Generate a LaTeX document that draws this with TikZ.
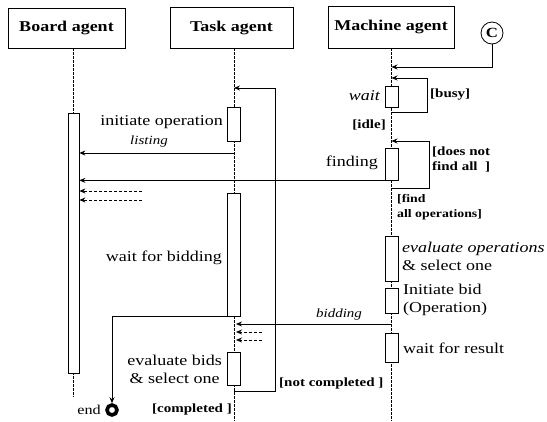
\documentclass[tikz,border=0pt]{standalone}
\usepackage{fontspec}
\setmainfont{Liberation Serif}[FakeStretch=1.2]
\usetikzlibrary{arrows.meta}
\tikzset{
  hdr/.style={draw, line width=0.9pt, inner sep=0pt, font=\fontsize{15}{17}\selectfont\bfseries},
  act/.style={draw, fill=white, line width=0.7pt, minimum width=13pt, inner sep=0pt},
  lbl/.style={inner sep=0pt, font=\fontsize{15}{18}\selectfont},
  grd/.style={inner sep=0pt, font=\fontsize{12.5}{15}\selectfont\bfseries},
  msg/.style={inner sep=0pt, font=\fontsize{12.5}{15}\selectfont\itshape},
  arr/.style={-{Stealth[length=6pt,width=5pt]}, line width=0.8pt},
  darr/.style={arr, dashed, dash pattern=on 3pt off 2pt},
  life/.style={line width=0.6pt, dash pattern=on 2.5pt off 1.5pt},
  conn/.style={line width=0.8pt}
}
\begin{document}
\begin{tikzpicture}[x=1pt,y=-1pt]
\useasboundingbox (0,0) rectangle (547,421);

% agents
\node[hdr, minimum width=117pt, minimum height=40pt] (board) at (66.5,28) {Board agent};
\node[hdr, minimum width=123pt, minimum height=41pt] (task) at (231.5,27.5) {Task agent};
\node[hdr, minimum width=126pt, minimum height=42pt] (mach) at (391,27) {Machine agent};
\node[draw, circle, line width=0.8pt, minimum size=22pt, inner sep=0pt,
      font=\fontsize{14}{16}\selectfont\bfseries] (C) at (492,33) {C};

% lifelines
\coordinate (bTop) at (73.5,48);  \coordinate (bBot) at (73.5,397);
\coordinate (tTop) at (234,48);   \coordinate (tBot) at (234,421);
\coordinate (mTop) at (391.5,48); \coordinate (mBot) at (391.5,421);
\draw[life] (bTop) -- (bBot);
\draw[life] (tTop) -- (tBot);
\draw[life] (mTop) -- (mBot);

% activations
\node[act, minimum width=11pt, minimum height=260pt] (bAct) at (73.5,243) {};
\node[act, minimum height=34pt] (tInit) at (234,124) {};
\node[act, minimum height=123pt] (tWait) at (234,254.5) {};
\node[act, minimum height=33pt] (tEval) at (234,368.5) {};
\node[act, minimum height=21pt] (mWait) at (391.5,96.5) {};
\node[act, minimum height=32pt] (mFind) at (391.5,164) {};
\node[act, minimum height=45pt] (mEval) at (391.5,258.5) {};
\node[act, minimum height=25pt] (mBid) at (391.5,300.5) {};
\node[act, minimum height=29pt] (mRes) at (391.5,347.5) {};

% machine agent: start and busy loop
\coordinate (mC) at (391.5,67);
\draw[arr] (C.south) |- (mC);
\coordinate (busyIn) at (391.5,78);
\coordinate (busyOut) at (391.5,112);
\coordinate (busyR) at (427,112);
\draw[arr] (busyOut) -- (busyR) |- (busyIn);
\node[lbl, font=\fontsize{15}{18}\selectfont\itshape, anchor=east] (wait) at (380,96) {wait};
\node[grd, anchor=west] (busy) at (430,95) {[busy]};
\node[grd, anchor=east] (idle) at (386,125) {[idle]};

% machine agent: finding loop
\coordinate (findIn) at (391.5,141);
\coordinate (findOut) at (391.5,188);
\coordinate (findR) at (429,188);
\draw[arr] (findOut) -- (findR) |- (findIn);
\node[lbl, anchor=east] (finding) at (378,163) {finding};
\node[grd, anchor=west, align=left] (notall) at (432,159.5) {[does not\\ find all\ \ ]};
\node[grd, font=\fontsize{11.5}{15}\selectfont\bfseries, anchor=west, align=left] (findall) at (397,207.5) {[find\\all operations]};
\draw[arr] (mFind.south west) -- (mFind.south west -| bAct.east);

% machine agent: evaluation and bid
\node[lbl, anchor=west, align=left] (evops) at (402,256.5) {\textit{evaluate operations}\\\& select one};
\node[lbl, anchor=west, align=left] (ibid) at (403,299.5) {Initiate bid\\(Operation)};
\node[lbl, anchor=west] (wres) at (403,348) {wait for result};
\coordinate (bidFrom) at (391.5,324);
\coordinate (bidTo) at (236,324);
\draw[arr] (bidFrom) -- (bidTo);
\node[msg] (bidding) at (339,314) {bidding};

% task agent: loop
\coordinate (loopIn) at (234,88);
\coordinate (loopOut) at (234,391);
\coordinate (loopR) at (275,391);
\draw[arr] (loopOut) -- (loopR) |- (loopIn);
\node[grd, anchor=west] (notcomp) at (279,383) {[not completed ]};

% task agent: operation request
\node[lbl, anchor=east] (initop) at (223,122) {initiate operation};
\coordinate (listFrom) at (234,153);
\draw[arr] (listFrom) -- (listFrom -| bAct.east);
\node[msg] (listing) at (149,141) {listing};
\coordinate (rep1) at (142,191);
\coordinate (rep2) at (142,200);
\draw[darr] (rep1) -- (rep1 -| bAct.east);
\draw[darr] (rep2) -- (rep2 -| bAct.east);

% task agent: bidding
\node[lbl, anchor=east] (wbid) at (222,258) {wait for bidding};
\coordinate (bid1) at (262,332);
\coordinate (bid2) at (262,340);
\draw[darr] (bid1) -- (236,332);
\draw[darr] (bid2) -- (236,340);
\node[lbl, anchor=east, align=center] (evbids) at (222,369) {evaluate bids\\\& select one};
\node[grd, anchor=east] (comp) at (232,409) {[completed ]};

% end
\node[circle, draw, line width=3.6pt, minimum size=10pt, inner sep=0pt] (endc) at (112,410) {};
\draw[arr] (tWait.south) -| (endc.north);
\node[lbl, font=\fontsize{13.5}{16}\selectfont, anchor=east] (endl) at (101,410) {end};
\end{tikzpicture}
\end{document}
